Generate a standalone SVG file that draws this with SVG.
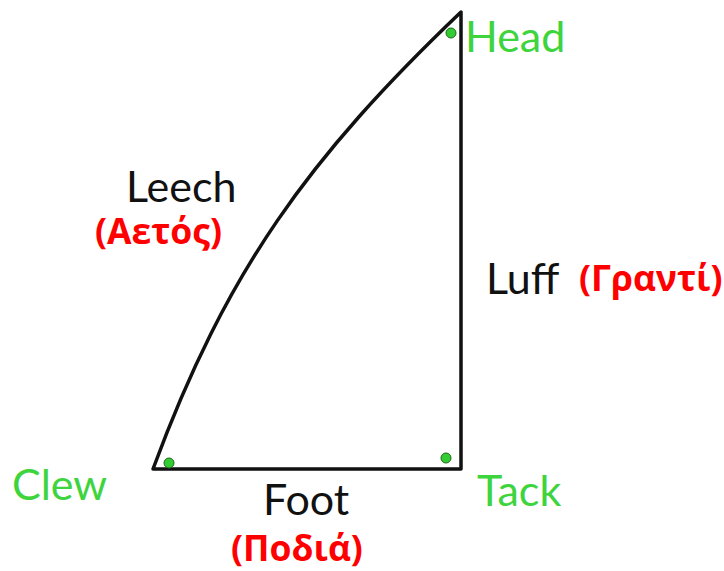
<svg xmlns="http://www.w3.org/2000/svg" width="724" height="571" viewBox="0 0 724 571">
<style>
.lbl{font-family:Lato,"Open Sans","Noto Sans",sans-serif;font-size:43px;fill:#111}
.g{fill:#3ed43e}
.gr{font-family:"Open Sans","Noto Sans",sans-serif;font-weight:bold;font-size:35.5px;fill:#ff0000}
.edge{fill:none;stroke:#111;stroke-width:3.5;stroke-linejoin:round}
.dot{fill:#33cc33;stroke:#1a6b1a;stroke-width:1}
</style>
<rect width="724" height="571" fill="#fff"/>
<g id="connectors">
<path class="edge" d="M153,469 C226,271 309,157 461,12 L461,469 Z"/>
</g>
<g id="head"><circle class="dot" cx="451" cy="33" r="5"/><text class="lbl g" x="465" y="52">Head</text></g>
<g id="clew"><circle class="dot" cx="169" cy="463" r="5"/><text class="lbl g" x="12" y="500">Clew</text></g>
<g id="tack"><circle class="dot" cx="446" cy="458" r="5"/><text class="lbl g" x="477" y="506">Tack</text></g>
<g id="leech"><text class="lbl" x="126" y="202">Leech</text><text class="gr" x="95" y="244">(Αετός)</text></g>
<g id="luff"><text class="lbl" x="486" y="294">Luff</text><text class="gr" x="579" y="291">(Γραντί)</text></g>
<g id="foot"><text class="lbl" x="263" y="515">Foot</text><text class="gr" x="231" y="561">(Ποδιά)</text></g>
</svg>
